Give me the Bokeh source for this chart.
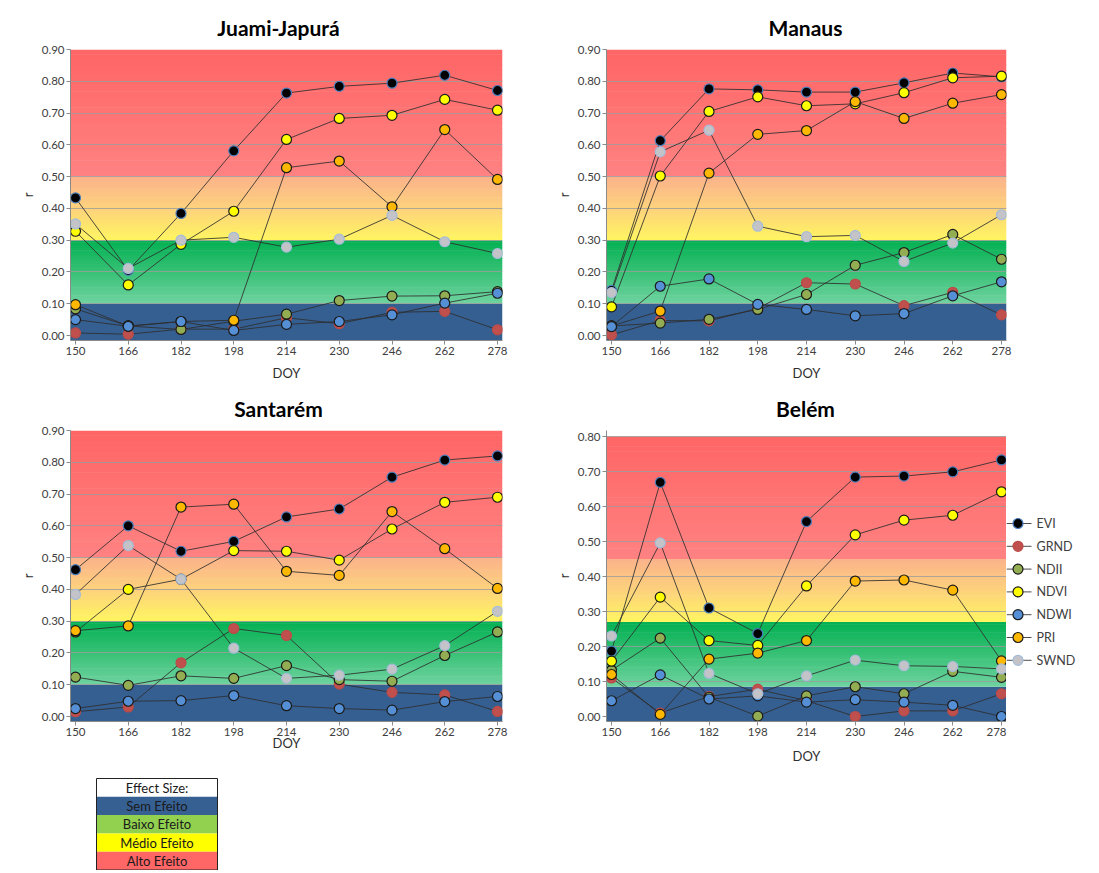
import numpy as np
from bokeh.plotting import figure
from bokeh.layouts import row, column
from bokeh.models import Range1d, FixedTicker, NumeralTickFormatter
from bokeh.core.properties import value
from bokeh.embed import file_html
from bokeh.resources import INLINE

# ---------------- data ----------------
DOY = [150, 166, 182, 198, 214, 230, 246, 262, 278]
SERIES = ["EVI", "GRND", "NDII", "NDVI", "NDWI", "PRI", "SWND"]
DRAW_ORDER = ["EVI", "GRND", "NDII", "NDVI", "PRI", "NDWI", "SWND"]
YTICKS_09 = [0.0, 0.1, 0.2, 0.3, 0.4, 0.5, 0.6, 0.7, 0.8, 0.9]
YTICKS_08 = [0.0, 0.1, 0.2, 0.3, 0.4, 0.5, 0.6, 0.7, 0.8]
TITLES = ["Juami-Japurá", "Manaus", "Santarém", "Belém"]

# Juami-Japurá
jj_evi = [0.433, 0.205, 0.384, 0.581, 0.763, 0.784, 0.794, 0.819, 0.771]
jj_grnd = [0.008, 0.004, 0.020, 0.020, 0.056, 0.037, 0.073, 0.076, 0.018]
jj_ndii = [0.084, 0.030, 0.019, 0.045, 0.067, 0.110, 0.124, 0.125, 0.138]
jj_ndvi = [0.328, 0.159, 0.287, 0.391, 0.617, 0.683, 0.693, 0.743, 0.709]
jj_ndwi = [0.050, 0.029, 0.044, 0.016, 0.035, 0.044, 0.065, 0.102, 0.133]
jj_pri = [0.097, 0.030, 0.044, 0.048, 0.528, 0.549, 0.405, 0.648, 0.491]
jj_swnd = [0.351, 0.211, 0.300, 0.309, 0.278, 0.303, 0.378, 0.295, 0.258]

# Manaus
ma_evi = [0.142, 0.613, 0.776, 0.773, 0.766, 0.766, 0.795, 0.826, 0.814]
ma_grnd = [0.002, 0.047, 0.046, 0.085, 0.166, 0.162, 0.094, 0.136, 0.065]
ma_ndii = [0.030, 0.039, 0.051, 0.082, 0.129, 0.221, 0.261, 0.318, 0.240]
ma_ndvi = [0.090, 0.502, 0.705, 0.751, 0.723, 0.729, 0.764, 0.811, 0.816]
ma_ndwi = [0.028, 0.155, 0.178, 0.098, 0.082, 0.062, 0.069, 0.125, 0.169]
ma_pri = [0.030, 0.077, 0.511, 0.633, 0.645, 0.736, 0.683, 0.731, 0.758]
ma_swnd = [0.135, 0.578, 0.646, 0.344, 0.311, 0.315, 0.233, 0.291, 0.380]

# Santarém
sa_evi = [0.462, 0.600, 0.520, 0.551, 0.628, 0.653, 0.753, 0.807, 0.820]
sa_grnd = [0.015, 0.030, 0.169, 0.277, 0.255, 0.102, 0.076, 0.068, 0.016]
sa_ndii = [0.124, 0.098, 0.128, 0.120, 0.160, 0.116, 0.111, 0.192, 0.266]
sa_ndvi = [0.266, 0.400, 0.432, 0.522, 0.520, 0.492, 0.590, 0.674, 0.690]
sa_ndwi = [0.025, 0.048, 0.050, 0.066, 0.034, 0.025, 0.020, 0.047, 0.063]
sa_pri = [0.270, 0.285, 0.659, 0.668, 0.457, 0.444, 0.645, 0.528, 0.403]
sa_swnd = [0.384, 0.538, 0.432, 0.215, 0.120, 0.130, 0.149, 0.223, 0.331]

# Belém
be_evi = [0.187, 0.669, 0.310, 0.237, 0.557, 0.684, 0.687, 0.699, 0.733]
be_grnd = [0.110, 0.010, 0.057, 0.078, 0.045, 0.000, 0.016, 0.016, 0.065]
be_ndii = [0.132, 0.224, 0.055, 0.001, 0.059, 0.085, 0.065, 0.129, 0.112]
be_ndvi = [0.158, 0.341, 0.217, 0.203, 0.373, 0.519, 0.561, 0.575, 0.642]
be_ndwi = [0.045, 0.119, 0.050, 0.059, 0.041, 0.048, 0.041, 0.032, 0.000]
be_pri = [0.120, 0.006, 0.164, 0.181, 0.217, 0.387, 0.390, 0.361, 0.159]
be_swnd = [0.230, 0.496, 0.123, 0.065, 0.116, 0.161, 0.145, 0.143, 0.136]

# effect-size thresholds (blue/green, green/yellow, yellow/red)
BANDS_STD = [0.10, 0.30, 0.50]
BANDS_BELEM = [0.085, 0.27, 0.45]

EFFECT_LABELS = ["Effect Size:", "Sem Efeito", "Baixo Efeito", "Médio Efeito", "Alto Efeito"]

# ---------------- styles ----------------
FONT = "Lato"
FILL = {"EVI": "#000000", "GRND": "#c0504d", "NDII": "#93ad52", "NDVI": "#ffff00",
        "NDWI": "#5590d6", "PRI": "#ffb800", "SWND": "#c3c3c8"}
EDGE = {"EVI": "#4a7ebb", "GRND": "#bb4b47", "NDII": "#1a1a1a", "NDVI": "#1a1a1a",
        "NDWI": "#1a1a1a", "PRI": "#1a1a1a", "SWND": "#a5bcd8"}
EFFECT_COLORS = ["#ffffff", "#366092", "#92d050", "#ffff00", "#ff6666"]
LINE_COLOR = "#2e2e2e"


def hex2rgb(h):
    return np.array([int(h[i:i + 2], 16) for i in (1, 3, 5)], dtype=float)


def grad_colors(stops, ts):
    pos = np.array([s[0] for s in stops])
    cols = np.array([hex2rgb(s[1]) for s in stops])
    out = []
    for t in ts:
        r = np.interp(t, pos, cols[:, 0])
        g = np.interp(t, pos, cols[:, 1])
        b = np.interp(t, pos, cols[:, 2])
        out.append("#%02x%02x%02x" % (int(round(r)), int(round(g)), int(round(b))))
    return out


def add_bands(p, thr, x0, x1, y0, ytop):
    p.quad(left=[x0], right=[x1], bottom=[y0], top=[thr[0]], fill_color="#365f91",
           line_color=None, level="image")
    segs = [
        (thr[0], thr[1], [(0, "#6fd3a0"), (0.5, "#38c176"), (1, "#03b052")]),
        (thr[1], thr[2], [(0, "#fff55f"), (0.45, "#fdd57a"), (1, "#fbb28b")]),
        (thr[2], ytop, [(0, "#ff8282"), (1, "#ff6565")]),
    ]
    lefts, rights, bots, tops, cols = [], [], [], [], []
    for lo, hi, stops in segs:
        n = 24
        edges = np.linspace(lo, hi, n + 1)
        ts = (np.arange(n) + 0.5) / n
        cs = grad_colors(stops, ts)
        for i in range(n):
            lefts.append(x0); rights.append(x1)
            top_i = edges[i + 1] + (ytop - y0) * 0.002 if i < n - 1 else edges[i + 1]
            bots.append(edges[i]); tops.append(top_i)
            cols.append(cs[i])
    p.quad(left=lefts, right=rights, bottom=bots, top=tops, fill_color=cols,
           line_color=None, level="image")


def make_panel(data, ymax, yticks, thr, fig_left, fig_top, fig_w, fig_h,
               x150, x278, frame_t, ytop, y0, xlab_standoff):
    ppu_x = (x278 - x150) / 128.0
    ppu_y = (y0 - ytop) / ymax
    xs, xe = 150 - 5 / ppu_x, 278 + 5 / ppu_x
    ys = -5 / ppu_y
    ye = ymax + (ytop - frame_t) / ppu_y
    frame_l, frame_r = x150 - 5, x278 + 5
    frame_b = y0 + 5
    p = figure(width=fig_w, height=fig_h, output_backend="svg", toolbar_location=None,
               x_range=Range1d(xs, xe), y_range=Range1d(ys, ye),
               min_border_left=frame_l - fig_left, min_border_right=fig_left + fig_w - frame_r,
               min_border_top=frame_t - fig_top, min_border_bottom=fig_top + fig_h - frame_b)
    p.outline_line_color = None
    p.background_fill_color = "#ffffff"
    p.border_fill_color = "#ffffff"

    add_bands(p, thr, xs, xe, ys, ymax)

    p.xgrid.visible = False
    p.ygrid.ticker = FixedTicker(ticks=yticks[1:])
    p.ygrid.grid_line_color = "#9c9c9c"
    p.ygrid.grid_line_alpha = 0.8

    p.xaxis.ticker = FixedTicker(ticks=DOY)
    p.yaxis.ticker = FixedTicker(ticks=yticks)
    p.yaxis.formatter = NumeralTickFormatter(format="0.00")
    p.xaxis.axis_label = "DOY"
    p.yaxis.axis_label = "r"
    for ax in (p.xaxis[0], p.yaxis[0]):
        ax.axis_line_color = "#8a8a8a"
        ax.major_tick_line_color = "#8a8a8a"
        ax.minor_tick_line_color = None
        ax.major_tick_in = 0
        ax.major_tick_out = 4
        ax.major_label_standoff = 2
        ax.major_label_text_font = FONT
        ax.major_label_text_font_size = "11.5px"
        ax.major_label_text_color = "#404040"
        ax.axis_label_text_font = FONT
        ax.axis_label_text_font_size = "13px"
        ax.axis_label_text_font_style = "normal"
        ax.axis_label_text_color = "#303030"
    p.xaxis.axis_label_standoff = xlab_standoff
    p.yaxis.axis_label_standoff = 3

    for name in DRAW_ORDER:
        vals = data[name]
        p.line(DOY, vals, line_color=LINE_COLOR, line_width=1, line_alpha=0.85)
        p.scatter(DOY, vals, size=10, marker="circle", fill_color=FILL[name],
                  line_color=EDGE[name], line_width=1.2)
    return p


def blank(w, h, **kw):
    f = figure(width=w, height=h, output_backend="svg", toolbar_location=None,
               x_range=Range1d(0, w), y_range=Range1d(h, 0), min_border=0,
               x_axis_location=None, y_axis_location=None, **kw)
    f.outline_line_color = None
    f.grid.visible = False
    return f


def title_fig(text, w, h, cx, cy):
    f = blank(w, h)
    f.text(x=[cx], y=[cy], text=[text], text_align="center", text_baseline="middle",
           text_font=value(FONT), text_font_size="21px", text_font_style="bold",
           text_color="#000000")
    return f


def site(evi, grnd, ndii, ndvi, ndwi, pri, swnd):
    return {"EVI": evi, "GRND": grnd, "NDII": ndii, "NDVI": ndvi,
            "NDWI": ndwi, "PRI": pri, "SWND": swnd}


# row 1 titles: page y 0..40
t1 = title_fig(TITLES[0], 540, 40, 278, 27)
t2 = title_fig(TITLES[1], 559, 40, 805 - 540, 27)
# row 1 panels: page y 40..390
p1 = make_panel(site(jj_evi, jj_grnd, jj_ndii, jj_ndvi, jj_ndwi, jj_pri, jj_swnd),
                0.9, YTICKS_09, BANDS_STD, 0, 40, 540, 350, 75, 497, 49, 49, 335, 7)
p2 = make_panel(site(ma_evi, ma_grnd, ma_ndii, ma_ndvi, ma_ndwi, ma_pri, ma_swnd),
                0.9, YTICKS_09, BANDS_STD, 540, 40, 559, 350, 611, 1001, 49, 49, 335, 7)
# row 2 titles: page y 390..422
t3 = title_fig(TITLES[2], 540, 32, 278, 408 - 390)
t4 = title_fig(TITLES[3], 559, 32, 805 - 540, 408 - 390)
# row 2 panels: page y 422..770
p3 = make_panel(site(sa_evi, sa_grnd, sa_ndii, sa_ndvi, sa_ndwi, sa_pri, sa_swnd),
                0.9, YTICKS_09, BANDS_STD, 0, 422, 540, 348, 75, 497, 430, 430, 716, -4)
p4 = make_panel(site(be_evi, be_grnd, be_ndii, be_ndvi, be_ndwi, be_pri, be_swnd),
                0.8, YTICKS_08, BANDS_BELEM, 540, 422, 466, 348, 611, 1001, 430, 436, 716, 9)

# ---------------- series key (right of Belém) ----------------
# its frame is aligned with Belém's frame (page y 430 .. 721)
LEG_W = 93
LEG_FRAME_H = 291
pl = figure(width=LEG_W, height=348, output_backend="svg", toolbar_location=None,
            x_range=Range1d(0, LEG_W), y_range=Range1d(LEG_FRAME_H, 0),
            min_border_left=0, min_border_right=0, min_border_top=8, min_border_bottom=49,
            x_axis_location=None, y_axis_location=None)
pl.outline_line_color = None
pl.grid.visible = False
leg_y = [93 + 22.8 * i for i in range(len(SERIES))]
pl.segment(x0=[0] * len(SERIES), x1=[25] * len(SERIES), y0=leg_y, y1=leg_y,
           line_color=LINE_COLOR, line_width=1, line_alpha=0.85)
pl.scatter(x=[11.5] * len(SERIES), y=leg_y, size=10, marker="circle",
           fill_color=[FILL[s] for s in SERIES], line_color=[EDGE[s] for s in SERIES],
           line_width=1.2)
pl.text(x=[30] * len(SERIES), y=leg_y, text=SERIES, text_baseline="middle",
        text_align="left", text_font=value(FONT), text_font_size="12.5px",
        text_color="#404040")

# ---------------- effect size key ----------------
pe = blank(230, 100)
row_h = 18.3
box_l, box_r, box_top = 96, 217, 8
tops = [box_top + i * row_h for i in range(len(EFFECT_LABELS))]
bots = [t + row_h for t in tops]
pe.quad(left=[box_l] * 5, right=[box_r] * 5, top=tops, bottom=bots,
        fill_color=EFFECT_COLORS, line_color=None)
pe.quad(left=[box_l], right=[box_r], top=[box_top], bottom=[bots[-1]],
        fill_color=None, line_color="#222222", line_width=1)
pe.text(x=[(box_l + box_r) / 2] * 5, y=[(t + b) / 2 for t, b in zip(tops, bots)],
        text=EFFECT_LABELS, text_align="center", text_baseline="middle",
        text_font=value(FONT), text_font_size="13px", text_color="#1a1a1a")

layout = column(row(t1, t2), row(p1, p2), row(t3, t4), row(p3, p4, pl), pe)
open("out.html", "w").write(file_html(layout, INLINE))
